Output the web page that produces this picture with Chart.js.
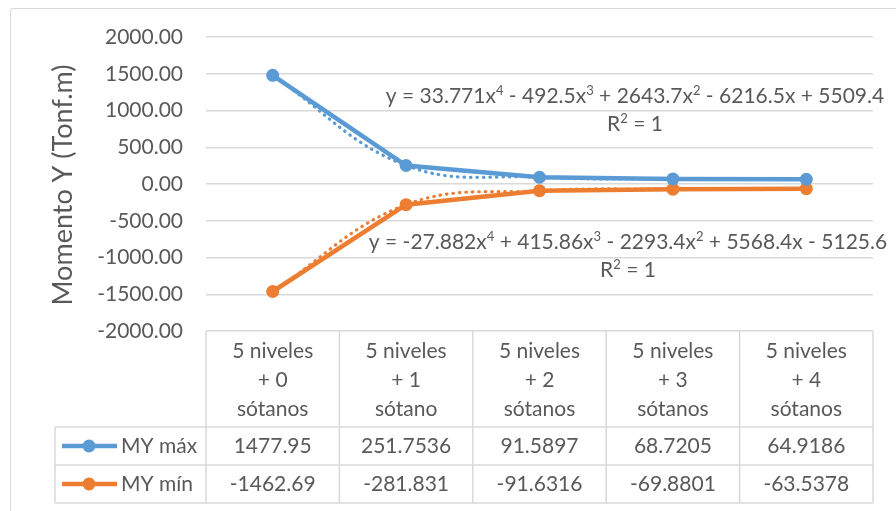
<!DOCTYPE html>
<html>
<head>
<meta charset="utf-8">
<script src="https://cdn.jsdelivr.net/npm/chart.js@4.4.1/dist/chart.umd.min.js"></script>
<style>
    body { margin: 0; background: #ffffff; }
    #contenedor { position: relative; width: 896px; height: 511px; overflow: hidden; }
    #marco { position: absolute; left: 10px; top: 8px; width: 900px; height: 520px; border: 1.5px solid #d9d9d9; border-radius: 3px; }
</style>
</head>
<body>
<div id="contenedor">
    <div id="marco"></div>
    <canvas id="graficas"></canvas>
</div>
<script>
// Categorías (líneas de cada etiqueta en la tabla de datos)
const categorias = [
    ['5 niveles', '+ 0', 'sótanos'],
    ['5 niveles', '+ 1', 'sótano'],
    ['5 niveles', '+ 2', 'sótanos'],
    ['5 niveles', '+ 3', 'sótanos'],
    ['5 niveles', '+ 4', 'sótanos']
];
const nombresSeries = ['MY máx', 'MY mín'];
const myMax = [1477.95, 251.7536, 91.5897, 68.7205, 64.9186];
const myMin = [-1462.69, -281.831, -91.6316, -69.8801, -63.5378];
const coloresSeries = ['#5b9bd5', '#ed7d31'];

// Eje Y
const yMin = -2000;
const yMax = 2000;
const yPaso = 500;
const tituloY = 'Momento Y (Tonf.m)';

// Líneas de tendencia polinómicas (orden 4)
const ecuaciones = [
    'y = 33.771x^4 - 492.5x^3 + 2643.7x^2 - 6216.5x + 5509.4',
    'y = -27.882x^4 + 415.86x^3 - 2293.4x^2 + 5568.4x - 5125.6'
];
const r2 = ['R^2 = 1', 'R^2 = 1'];

const fuente = 'Lato, "Open Sans", sans-serif';
const gris = '#595959';
const lineaTabla = '#d9d9d9';

// Dibuja texto con exponentes marcados como ^n
function textoConExponentes(ctx, texto, cx, y, size) {
    const partes = texto.split(/\^(\d)/);
    let total = 0;
    partes.forEach((p, i) => {
        ctx.font = (i % 2 ? size * 0.62 : size) + 'px ' + fuente;
        total += ctx.measureText(p).width;
    });
    let x = cx - total / 2;
    ctx.textAlign = 'left';
    partes.forEach((p, i) => {
        const sup = i % 2 === 1;
        ctx.font = (sup ? size * 0.62 : size) + 'px ' + fuente;
        ctx.fillText(p, x, sup ? y - size * 0.4 : y);
        x += ctx.measureText(p).width;
    });
}

const tablaDatos = {
    id: 'tablaDatos',
    afterDraw(chart) {
        const ctx = chart.ctx;
        const area = chart.chartArea;
        const xs = chart.scales.x;
        const ancho = (area.right - area.left) / categorias.length;
        const arriba = area.bottom;
        const finCabecera = arriba + 96;
        const altoFila = 38;
        const izqLeyenda = 55;
        ctx.save();

        // Título del eje Y
        ctx.fillStyle = gris;
        ctx.font = '27px ' + fuente;
        ctx.textAlign = 'center';
        ctx.textBaseline = 'middle';
        ctx.translate(63, 185);
        ctx.rotate(-Math.PI / 2);
        ctx.fillText(tituloY, 0, 0);
        ctx.setTransform(1, 0, 0, 1, 0, 0);

        // Rejilla de la tabla
        ctx.strokeStyle = lineaTabla;
        ctx.lineWidth = 1.5;
        ctx.beginPath();
        for (let i = 0; i <= categorias.length; i++) {
            const x = area.left + i * ancho;
            ctx.moveTo(x, arriba);
            ctx.lineTo(x, finCabecera + 2 * altoFila);
        }
        ctx.moveTo(izqLeyenda, finCabecera);
        ctx.lineTo(izqLeyenda, finCabecera + 2 * altoFila);
        for (let f = 0; f <= 2; f++) {
            ctx.moveTo(izqLeyenda, finCabecera + f * altoFila);
            ctx.lineTo(area.right, finCabecera + f * altoFila);
        }
        ctx.stroke();

        // Etiquetas de categoría
        ctx.fillStyle = gris;
        ctx.font = '21px ' + fuente;
        ctx.textAlign = 'center';
        ctx.textBaseline = 'middle';
        categorias.forEach((lineas, i) => {
            const cx = xs.getPixelForValue(i);
            lineas.forEach((t, k) => ctx.fillText(t, cx, arriba + 20 + k * 29));
        });

        // Filas de valores con clave de leyenda
        [myMax, myMin].forEach((serie, f) => {
            const cy = finCabecera + f * altoFila + altoFila / 2;
            ctx.strokeStyle = coloresSeries[f];
            ctx.lineWidth = 4.5;
            ctx.beginPath();
            ctx.moveTo(62, cy);
            ctx.lineTo(117, cy);
            ctx.stroke();
            ctx.fillStyle = coloresSeries[f];
            ctx.beginPath();
            ctx.arc(89, cy, 6.5, 0, Math.PI * 2);
            ctx.fill();
            ctx.fillStyle = gris;
            ctx.textAlign = 'left';
            ctx.fillText(nombresSeries[f], 121, cy);
            ctx.textAlign = 'center';
            serie.forEach((v, i) => ctx.fillText(String(v), xs.getPixelForValue(i), cy));
        });

        // Ecuaciones de las líneas de tendencia
        ctx.fillStyle = gris;
        ctx.textBaseline = 'alphabetic';
        textoConExponentes(ctx, ecuaciones[0], 635, 103, 21);
        textoConExponentes(ctx, r2[0], 635, 131, 21);
        textoConExponentes(ctx, ecuaciones[1], 628, 249, 21);
        textoConExponentes(ctx, r2[1], 628, 277, 21);
        ctx.restore();
    }
};

const etiquetas = categorias.map((l) => l.join(' '));

function serieLinea(nombre, datos, color) {
    return {
        label: nombre,
        data: datos,
        borderColor: color,
        backgroundColor: color,
        borderWidth: 4.5,
        pointRadius: 6.5,
        pointBorderWidth: 0,
        pointHoverRadius: 6.5,
        tension: 0,
        order: 2
    };
}

function serieTendencia(nombre, datos, color) {
    return {
        label: nombre,
        data: datos,
        borderColor: color,
        borderWidth: 3.2,
        borderDash: [0.5, 6],
        borderCapStyle: 'round',
        pointRadius: 0,
        tension: 0.4,
        fill: false,
        order: 1
    };
}

const ctx = document.getElementById('graficas').getContext('2d');
new Chart(ctx, {
    type: 'line',
    data: {
        labels: etiquetas,
        datasets: [
            serieLinea(nombresSeries[0], myMax, coloresSeries[0]),
            serieLinea(nombresSeries[1], myMin, coloresSeries[1]),
            serieTendencia('Poly. (MY máx)', myMax, coloresSeries[0]),
            serieTendencia('Poly. (MY mín)', myMin, coloresSeries[1])
        ]
    },
    options: {
        responsive: true,
        maintainAspectRatio: false,
        animation: false,
        layout: { padding: { left: 0, right: 23, top: 37, bottom: 180 } },
        plugins: {
            legend: { display: false },
            tooltip: { enabled: false }
        },
        scales: {
            x: {
                display: false,
                offset: true
            },
            y: {
                min: yMin,
                max: yMax,
                afterFit(scale) { scale.width = 206; },
                border: { display: false },
                grid: { color: '#d9d9d9', lineWidth: 1.5, drawTicks: false },
                ticks: {
                    stepSize: yPaso,
                    padding: 23,
                    color: gris,
                    font: { family: fuente, size: 21 },
                    callback: (v) => v.toFixed(2)
                }
            }
        }
    },
    plugins: [tablaDatos]
});
</script>
</body>
</html>
